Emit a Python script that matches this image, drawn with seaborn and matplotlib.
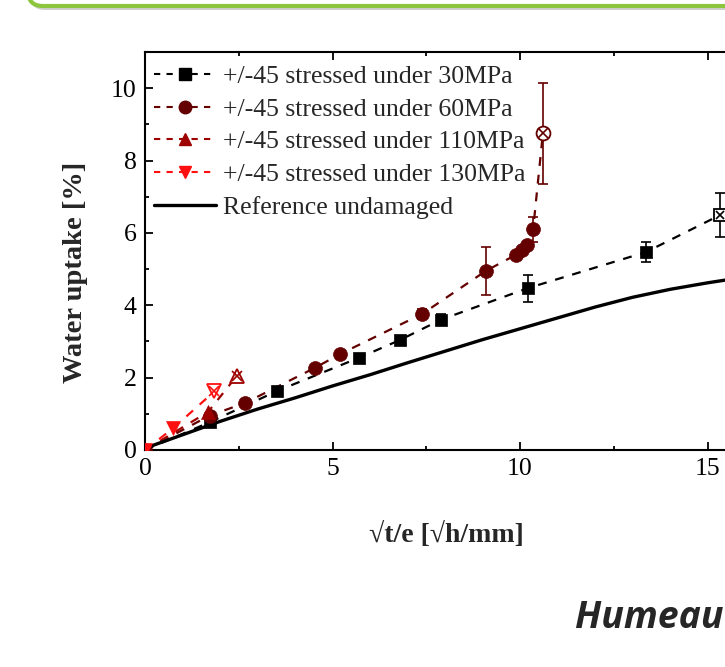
import numpy as np
import pandas as pd
import matplotlib
matplotlib.use("Agg")
import matplotlib.pyplot as plt
import matplotlib.patches as mpatches
from matplotlib.lines import Line2D
from matplotlib.ticker import MultipleLocator
import seaborn as sns

# values (x = sqrt(t)/e, y = water uptake %)
x_30 = [0, 1.73, 3.52, 5.71, 6.8, 7.89, 10.2, 13.36, 15.33]
y_30 = [0, 0.77, 1.63, 2.55, 3.04, 3.6, 4.47, 5.47, 6.49]
e_30 = [0, 0, 0, 0, 0, 0.15, 0.37, 0.28, 0.61]

x_60 = [0, 1.72, 2.67, 4.53, 5.2, 7.39, 9.09, 9.9, 10.05, 10.19, 10.35, 10.61]
y_60 = [0, 0.95, 1.3, 2.27, 2.65, 3.76, 4.95, 5.4, 5.52, 5.66, 6.1, 8.75]
e_60 = [0, 0, 0, 0, 0, 0.15, 0.67, 0, 0, 0, 0.35, 1.4]

x_110 = [0, 1.68, 2.45]
y_110 = [0, 1.05, 2.05]

x_130 = [0, 0.75, 1.85]
y_130 = [0, 0.6, 1.62]

x_ref = [0, 1, 2, 3, 4, 5, 6, 7, 8, 9, 10, 11, 12, 13, 14, 15, 16]
y_ref = [0.05, 0.42, 0.79, 1.13, 1.44, 1.77, 2.08, 2.41, 2.73, 3.05, 3.35,
         3.65, 3.95, 4.22, 4.44, 4.62, 4.78]

labels = ["+/-45 stressed under 30MPa", "+/-45 stressed under 60MPa",
          "+/-45 stressed under 110MPa", "+/-45 stressed under 130MPa",
          "Reference undamaged"]

sns.set_style("ticks")
plt.rcParams['font.family'] = ['Liberation Serif', 'DejaVu Serif']

fig = plt.figure(figsize=(7.25, 6.67), dpi=100)
ax = fig.add_axes([145 / 725, 217 / 667, 750 / 725, 398 / 667])

series = [
    (x_30, y_30, e_30, "black", "s", 9),
    (x_60, y_60, e_60, "#640000", "o", 10),
    (x_110, y_110, None, "#9e0000", "^", 10),
    (x_130, y_130, None, "#ff1010", "v", 10),
]

for xs, ys, es, col, mk, ms in series:
    df = pd.DataFrame({"x": xs, "y": ys})
    sns.lineplot(data=df, x="x", y="y", ax=ax, color=col, sort=False,
                 linestyle=(0, (4, 4)), linewidth=1.6, errorbar=None)
    if es is not None:
        err = np.array(es)
        m = err > 0
        ax.errorbar(np.array(xs)[m], np.array(ys)[m], yerr=err[m], fmt="none",
                    ecolor=col, elinewidth=1.2, capsize=3.5, capthick=1.2)
    # filled markers for all points but the last one
    sns.scatterplot(x=xs[:-1], y=ys[:-1], ax=ax, marker=mk, color=col,
                    s=ms ** 2, edgecolor=col, linewidth=0.5, zorder=4)
    # last point: open marker with a cross
    ax.plot(xs[-1], ys[-1], marker=mk, ms=ms, mfc="white", mec=col, mew=1.3,
            ls="none", zorder=5)
    ax.plot(xs[-1], ys[-1], marker="x", ms=ms * 0.7, mec=col, mew=1.2,
            ls="none", zorder=6)

ref_df = pd.DataFrame({"x": x_ref, "y": y_ref})
sns.lineplot(data=ref_df, x="x", y="y", ax=ax, color="black", linewidth=2.4,
             errorbar=None)

ax.set_xlim(0, 20)
ax.set_ylim(0, 11)
ax.xaxis.set_major_locator(MultipleLocator(5))
ax.xaxis.set_minor_locator(MultipleLocator(2.5))
ax.yaxis.set_major_locator(MultipleLocator(2))
ax.yaxis.set_minor_locator(MultipleLocator(1))
ax.tick_params(which="both", direction="in", top=True, right=True,
               labelsize=18.5, width=1.3, colors="black")
ax.tick_params(which="major", length=6, pad=6)
ax.tick_params(which="minor", length=3)
for sp in ax.spines.values():
    sp.set_linewidth(1.5)
    sp.set_color("black")

ax.set_xlabel("√t/e [√h/mm]", fontsize=20, fontweight="bold")
ax.set_ylabel("Water uptake [%]", fontsize=20.5, fontweight="bold")
ax.xaxis.set_label_coords(301 / 750, -0.18)
ax.yaxis.set_label_coords(-0.076, 0.447)

handles = []
for xs, ys, es, col, mk, ms in series:
    handles.append(Line2D([], [], color=col, linestyle=(0, (3, 3)), linewidth=1.5,
                          marker=mk, markersize=ms * 0.9, mfc=col, mec=col))
handles.append(Line2D([], [], color="black", linewidth=2.4))
ax.legend(handles, labels, loc="upper left", bbox_to_anchor=(0.0, 0.99),
          frameon=False, fontsize=18.5, handlelength=2.4, handletextpad=0.3,
          labelspacing=0.38, borderaxespad=0.25, borderpad=0.1)

# slide decoration: green rounded box at the top, author name at bottom right
shadow = mpatches.FancyBboxPatch((0.30, 6.57), 8.0, 1.0,
                                 boxstyle="round,pad=0,rounding_size=0.15",
                                 transform=fig.dpi_scale_trans, fc="#b0b0b0",
                                 ec="none", alpha=0.6, clip_on=False)
box = mpatches.FancyBboxPatch((0.28, 6.61), 8.0, 1.0,
                              boxstyle="round,pad=0,rounding_size=0.15",
                              transform=fig.dpi_scale_trans, fc="white",
                              ec="#8cc63f", lw=3, clip_on=False)
fig.patches.extend([shadow, box])

fig.text(575 / 725, 1 - 628 / 667, "Humeau et al.", fontsize=27,
         fontweight="bold", fontstyle="italic", family=["Open Sans", "DejaVu Sans"],
         ha="left", va="baseline")

fig.savefig("out.png", dpi=100)
